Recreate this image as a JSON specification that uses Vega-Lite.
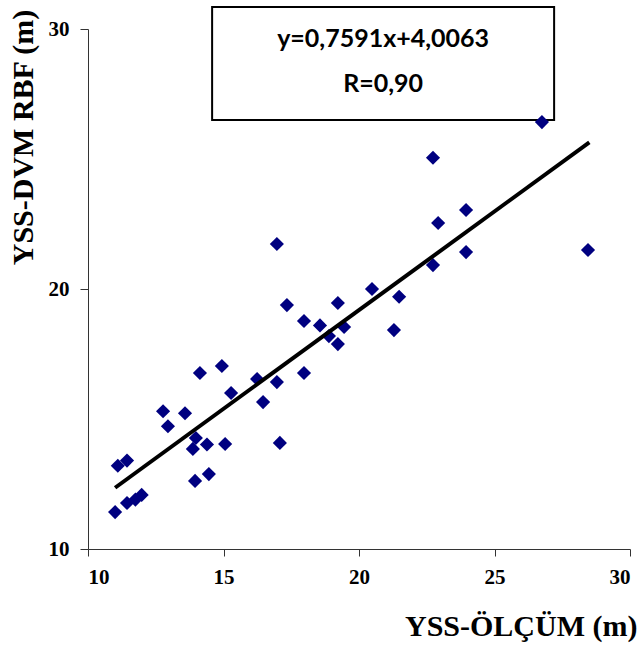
{
  "$schema": "https://vega.github.io/schema/vega-lite/v6.json",
  "autosize": {"type": "none"},
  "width": 542,
  "height": 520,
  "padding": {"left": 88, "top": 29, "right": 14, "bottom": 99},
  "background": "white",
  "config": {"view": {"stroke": null}},
  "datasets": {
    "pts": [
      {"x": 11.0, "y": 11.42}, {"x": 11.1, "y": 13.2}, {"x": 11.44, "y": 13.4}, {"x": 11.44, "y": 11.77},
      {"x": 11.75, "y": 11.9}, {"x": 11.98, "y": 12.08}, {"x": 12.77, "y": 15.3}, {"x": 12.95, "y": 14.72},
      {"x": 13.58, "y": 15.22}, {"x": 13.87, "y": 13.85}, {"x": 13.98, "y": 14.27}, {"x": 13.95, "y": 12.62},
      {"x": 14.13, "y": 16.77}, {"x": 14.39, "y": 14.02}, {"x": 14.46, "y": 12.88}, {"x": 14.94, "y": 17.04},
      {"x": 15.06, "y": 14.04}, {"x": 15.28, "y": 16.0}, {"x": 16.24, "y": 16.54}, {"x": 16.46, "y": 15.65},
      {"x": 16.97, "y": 16.42}, {"x": 16.97, "y": 21.73}, {"x": 17.08, "y": 14.08}, {"x": 17.34, "y": 19.38},
      {"x": 17.97, "y": 16.77}, {"x": 17.97, "y": 18.77}, {"x": 18.56, "y": 18.6}, {"x": 18.89, "y": 18.19},
      {"x": 19.22, "y": 19.46}, {"x": 19.22, "y": 17.88}, {"x": 19.45, "y": 18.54}, {"x": 20.48, "y": 20.0},
      {"x": 21.29, "y": 18.42}, {"x": 21.48, "y": 19.7}, {"x": 22.73, "y": 25.05}, {"x": 22.73, "y": 20.92},
      {"x": 22.92, "y": 22.54}, {"x": 23.95, "y": 23.04}, {"x": 23.95, "y": 21.42}, {"x": 26.75, "y": 26.42},
      {"x": 28.45, "y": 21.5}
    ],
    "fit": [{"x": 11.0, "y": 12.356}, {"x": 28.5, "y": 25.64}],
    "box": [{"x1": 14.58, "x2": 27.2, "y1": 26.5, "y2": 30.85}],
    "labels": [
      {"x": 20.89, "y": 29.6, "t": "y=0,7591x+4,0063"},
      {"x": 20.89, "y": 27.87, "t": "R=0,90"}
    ]
  },
  "layer": [
    {
      "data": {"name": "box"},
      "mark": {"type": "rect", "fill": "white", "stroke": "black", "strokeWidth": 2, "clip": false},
      "encoding": {
        "x": {"field": "x1", "type": "quantitative", "scale": {"domain": [10, 30], "nice": false, "zero": false},
          "axis": {"values": [10, 15, 20, 25, 30], "grid": false, "domainColor": "#333", "tickColor": "#333", "tickSize": 7,
            "labelFont": "Liberation Serif", "labelFontWeight": "bold", "labelFontSize": 21, "labelColor": "black", "labelPadding": 10,
            "title": "YSS-ÖLÇÜM (m)", "titleFont": "Liberation Serif", "titleFontWeight": "bold", "titleFontSize": 30, "titleColor": "black",
            "titleAlign": "right", "titleAnchor": null, "titleX": 549, "titleY": 86, "titleBaseline": "alphabetic"}},
        "x2": {"field": "x2"},
        "y": {"field": "y1", "type": "quantitative", "scale": {"domain": [10, 30], "nice": false, "zero": false},
          "axis": {"values": [10, 20, 30], "grid": false, "domainColor": "#333", "tickColor": "#333", "tickSize": 8,
            "labelFont": "Liberation Serif", "labelFontWeight": "bold", "labelFontSize": 21, "labelColor": "black", "labelPadding": 11,
            "title": "YSS-DVM RBF (m)", "titleFont": "Liberation Serif", "titleFontWeight": "bold", "titleFontSize": 30, "titleColor": "black",
            "titleAngle": -90, "titleAlign": "center", "titleAnchor": null, "titleX": -56, "titleY": 108, "titleBaseline": "alphabetic"}},
        "y2": {"field": "y2"}
      }
    },
    {
      "data": {"name": "labels"},
      "mark": {"type": "text", "font": "Lato", "fontWeight": "bold", "fontSize": 25, "color": "black", "align": "center", "baseline": "middle"},
      "encoding": {
        "x": {"field": "x", "type": "quantitative"},
        "y": {"field": "y", "type": "quantitative"},
        "text": {"field": "t"}
      }
    },
    {
      "data": {"name": "pts"},
      "mark": {"type": "point", "shape": "diamond", "filled": true, "color": "#000080", "size": 200, "opacity": 1},
      "encoding": {
        "x": {"field": "x", "type": "quantitative"},
        "y": {"field": "y", "type": "quantitative"}
      }
    },
    {
      "data": {"name": "fit"},
      "mark": {"type": "line", "color": "black", "strokeWidth": 4},
      "encoding": {
        "x": {"field": "x", "type": "quantitative"},
        "y": {"field": "y", "type": "quantitative"}
      }
    }
  ]
}
